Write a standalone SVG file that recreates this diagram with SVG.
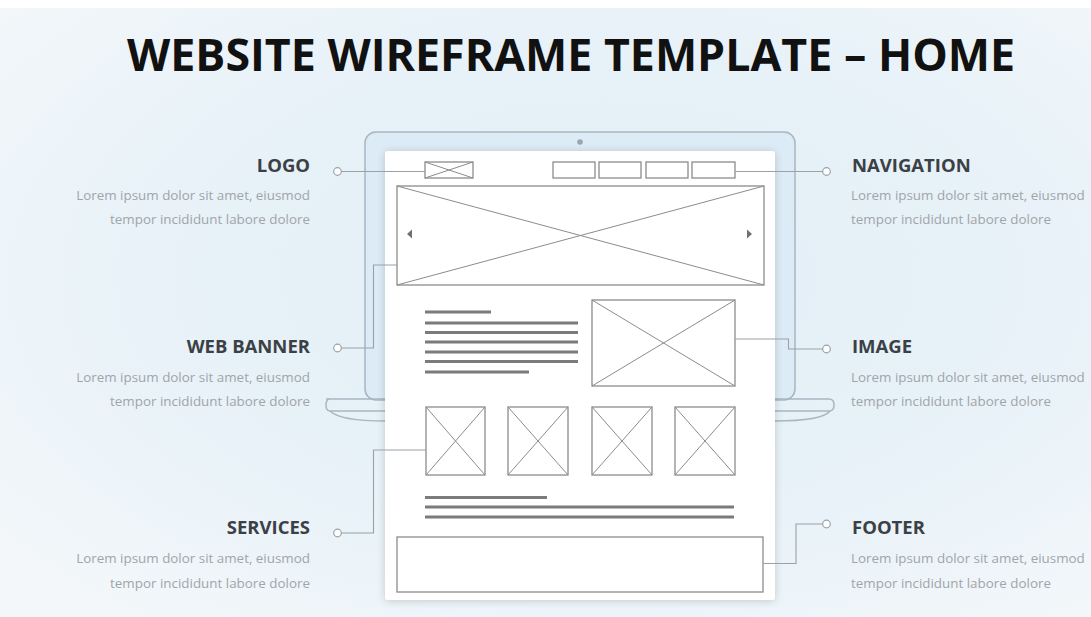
<svg xmlns="http://www.w3.org/2000/svg" width="1091" height="617" viewBox="0 0 1091 617">
<defs>
<radialGradient id="bg" cx="0.55" cy="0.45" r="0.7">
<stop offset="0" stop-color="#e2eef7"/>
<stop offset="0.6" stop-color="#e8f2f8"/>
<stop offset="1" stop-color="#f3f7fa"/>
</radialGradient>
<filter id="sh" x="-10%" y="-10%" width="120%" height="120%">
<feGaussianBlur in="SourceAlpha" stdDeviation="4"/>
<feOffset dx="0" dy="1"/>
<feComponentTransfer><feFuncA type="linear" slope="0.18"/></feComponentTransfer>
<feMerge><feMergeNode/><feMergeNode in="SourceGraphic"/></feMerge>
</filter>
<style>
.h{font-family:"Open Sans","Liberation Sans",sans-serif;font-weight:700;font-size:18.5px;fill:#3b4045}
.b{font-family:"Open Sans","Liberation Sans",sans-serif;font-size:13.4px;fill:#a0a5aa}
.r{text-anchor:end}
.wf{fill:#fff;stroke:#8c8c8c;stroke-width:1.3}
.x{stroke:#8c8c8c;stroke-width:1;fill:none}
.tl{stroke:#7b7b7b;stroke-width:3}
.lap{fill:none;stroke:#a7b6c1;stroke-width:1.5}
.con{fill:none;stroke:#9aa2a8;stroke-width:1.1}
.dot{fill:#fff;stroke:#9aa2a8;stroke-width:1.2}
</style>
</defs>
<rect width="1091" height="617" fill="url(#bg)"/>
<rect width="1091" height="8" fill="#ffffff"/>
<text x="571" y="71" text-anchor="middle" textLength="888" lengthAdjust="spacingAndGlyphs" style="font-family:'Open Sans','Liberation Sans',sans-serif;font-weight:700;font-size:45px;fill:#111">WEBSITE WIREFRAME TEMPLATE – HOME</text>

<g id="laptop">
<rect x="365" y="132" width="430" height="268" rx="11" fill="#dcebf5" stroke="#a7b6c1" stroke-width="1.5"/>
<circle cx="580" cy="142" r="2.8" fill="#9aa5ad"/>
<path class="lap" d="M326,399 H829 Q834,399 834,405 Q834,411 829,411 H330 Q326,411 326,405 Q326,399 330,399 Z" fill="#e4eff7"/>
<path class="lap" d="M330,411 Q340,421 385,421 H775 Q822,421 830,411"/>
</g>

<g id="page">
<rect x="385" y="151" width="390" height="449" rx="3" fill="#ffffff" filter="url(#sh)"/>
</g>

<g id="logo-box">
<rect class="wf" x="425" y="162" width="48" height="16"/>
<path class="x" d="M425,162 L473,178 M473,162 L425,178"/>
</g>
<g id="nav-boxes">
<rect class="wf" x="553" y="162" width="42" height="16"/>
<rect class="wf" x="599" y="162" width="42" height="16"/>
<rect class="wf" x="646" y="162" width="42" height="16"/>
<rect class="wf" x="692" y="162" width="43" height="16"/>
</g>
<g id="banner">
<rect class="wf" x="397" y="186" width="367" height="99"/>
<path class="x" d="M397,186 L764,285 M764,186 L397,285"/>
<path d="M407,234 L412,229.5 L412,238.5 Z" fill="#707070"/>
<path d="M752,234 L747,229.5 L747,238.5 Z" fill="#707070"/>
</g>
<g id="text-block">
<path class="tl" d="M425,312 H491 M425,323 H578 M425,332.5 H578 M425,342 H578 M425,352 H578 M425,361.5 H578 M425,372 H529"/>
</g>
<g id="image-box">
<rect class="wf" x="592" y="300" width="143" height="86"/>
<path class="x" d="M592,300 L735,386 M735,300 L592,386"/>
</g>
<g id="services">
<rect class="wf" x="426" y="407" width="59" height="68"/>
<path class="x" d="M426,407 L485,475 M485,407 L426,475"/>
<rect class="wf" x="508" y="407" width="60" height="68"/>
<path class="x" d="M508,407 L568,475 M568,407 L508,475"/>
<rect class="wf" x="592" y="407" width="60" height="68"/>
<path class="x" d="M592,407 L652,475 M652,407 L592,475"/>
<rect class="wf" x="675" y="407" width="60" height="68"/>
<path class="x" d="M675,407 L735,475 M735,407 L675,475"/>
</g>
<g id="text-lines-2">
<path class="tl" d="M425,497.5 H547 M425,507 H734 M425,517 H734"/>
</g>
<g id="footer-box">
<rect class="wf" x="397" y="537" width="366" height="55"/>
</g>

<g id="connectors">
<path class="con" d="M341,171.5 H425"/>
<circle class="dot" cx="337.5" cy="171.5" r="3.8"/>
<path class="con" d="M735,171.5 H823"/>
<circle class="dot" cx="826.5" cy="171.5" r="3.8"/>
<path class="con" d="M397,265 H373.5 V348 H341"/>
<circle class="dot" cx="337.5" cy="348" r="3.8"/>
<path class="con" d="M735,339 H788.5 V349 H823"/>
<circle class="dot" cx="826.5" cy="349" r="3.8"/>
<path class="con" d="M426,450 H373.5 V533 H341"/>
<circle class="dot" cx="337.5" cy="533" r="3.8"/>
<path class="con" d="M763,563.5 H796 V524 H823"/>
<circle class="dot" cx="826.5" cy="524" r="3.8"/>
</g>

<g id="label-logo">
<text class="h r" x="310" y="172">LOGO</text>
<text class="b r" x="310" y="200">Lorem ipsum dolor sit amet, eiusmod</text>
<text class="b r" x="310" y="224">tempor incididunt labore dolore</text>
</g>
<g id="label-webbanner">
<text class="h r" x="310" y="353">WEB BANNER</text>
<text class="b r" x="310" y="382">Lorem ipsum dolor sit amet, eiusmod</text>
<text class="b r" x="310" y="406">tempor incididunt labore dolore</text>
</g>
<g id="label-services">
<text class="h r" x="310" y="534">SERVICES</text>
<text class="b r" x="310" y="563">Lorem ipsum dolor sit amet, eiusmod</text>
<text class="b r" x="310" y="588">tempor incididunt labore dolore</text>
</g>
<g id="label-navigation">
<text class="h" x="852" y="172">NAVIGATION</text>
<text class="b" x="851" y="200">Lorem ipsum dolor sit amet, eiusmod</text>
<text class="b" x="851" y="224">tempor incididunt labore dolore</text>
</g>
<g id="label-image">
<text class="h" x="852" y="353">IMAGE</text>
<text class="b" x="851" y="382">Lorem ipsum dolor sit amet, eiusmod</text>
<text class="b" x="851" y="406">tempor incididunt labore dolore</text>
</g>
<g id="label-footer">
<text class="h" x="852" y="534">FOOTER</text>
<text class="b" x="851" y="563">Lorem ipsum dolor sit amet, eiusmod</text>
<text class="b" x="851" y="588">tempor incididunt labore dolore</text>
</g>
</svg>
